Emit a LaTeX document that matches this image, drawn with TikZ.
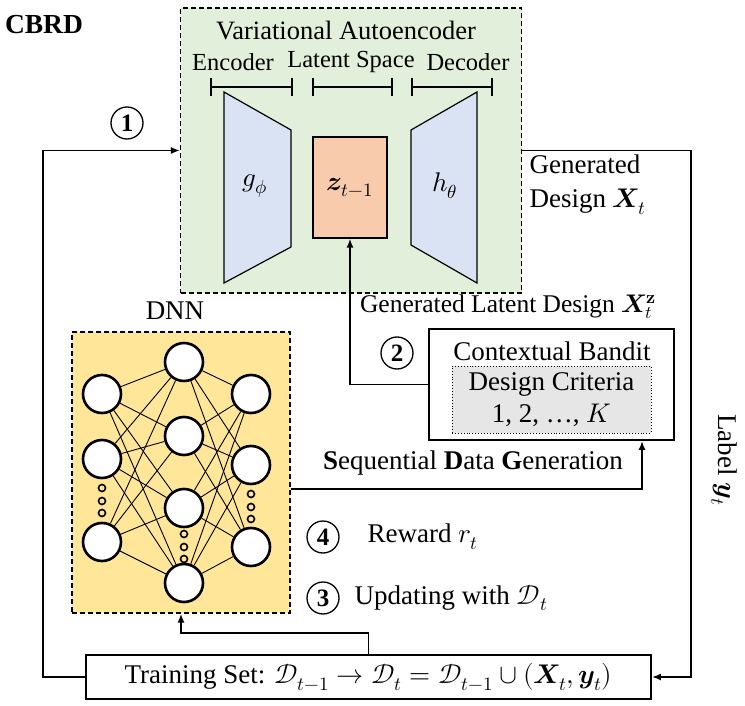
\documentclass[tikz,border=0pt]{standalone}
\usepackage{fontspec}
\usepackage{unicode-math}
\setmainfont{Liberation Serif}
\setmathfont{Latin Modern Math}
\usetikzlibrary{arrows.meta,calc}
\definecolor{vaegreen}{HTML}{E2EFDA}
\definecolor{encblue}{HTML}{DAE3F3}
\definecolor{zorange}{HTML}{F8CBAD}
\definecolor{dnnyellow}{HTML}{FFE699}
\definecolor{critgray}{HTML}{E7E6E6}
\tikzset{
  base/.style={font=\fontsize{27}{32}\selectfont},
  vaefont/.style={font=\fontsize{24.5}{30}\selectfont},
  every node/.style={base},
  conn/.style={line width=1.8pt},
  arr/.style={-{Latex[length=9pt,width=7pt]}},
  bracketline/.style={line width=1.8pt,{Bar[width=18pt,line width=1.8pt]}-{Bar[width=18pt,line width=1.8pt]}},
  dashbox/.style={draw,line width=1.1pt,dash pattern=on 5pt off 3pt,inner sep=0pt},
  solidbox/.style={draw,line width=1.8pt,inner sep=0pt},
  neuron/.style={circle,draw,line width=2.6pt,fill=white,minimum size=38pt,inner sep=0pt},
  dotc/.style={circle,draw,line width=1.6pt,minimum size=7pt,inner sep=0pt},
  synapse/.style={line width=0.9pt},
  numcirc/.style={circle,draw,line width=1.3pt,minimum size=32pt,inner sep=0pt,font=\fontsize{25}{30}\selectfont\bfseries},
  trap/.style={draw,line width=1.2pt,fill=encblue}
}
\begin{document}
\begin{tikzpicture}[x=1pt,y=-1pt]
\useasboundingbox (0,0) rectangle (745,706);

% title
\node[font=\fontsize{27.5}{30}\selectfont\bfseries] (cbrd) at (44,25) {CBRD};

% VAE
\node[dashbox,fill=vaegreen,minimum width=341pt,minimum height=285pt] (vae) at (351,150.5) {};
\node[font=\fontsize{26.5}{30}\selectfont] (vaetitle) at (346,31) {Variational Autoencoder};
\node[vaefont] (enclab) at (233,62) {Encoder};
\node[vaefont] (latlab) at (351,62) {Latent Space};
\node[vaefont] (declab) at (468,62) {Decoder};
\draw[bracketline] (210,87) -- (293,87);
\draw[bracketline] (312,87) -- (393,87);
\draw[bracketline] (411,87) -- (493,87);
\draw[trap] (224,92) -- (291,130) -- (291,247) -- (224,283) -- cycle;
\draw[trap] (411,130) -- (477,92) -- (477,283) -- (411,245) -- cycle;
\node (glab) at (255,186) {$g_{\phi}$};
\node (hlab) at (445,186) {$h_{\theta}$};
\node[draw,line width=1.2pt,fill=zorange,minimum width=74pt,minimum height=101pt,inner sep=0pt] (z) at (350,187.5) {$\symbfit{z}_{t-1}$};

% generated design
\node[align=left,anchor=west,font=\fontsize{27}{34}\selectfont] (gendes) at (526,185) {Generated\\Design $\symbfit{X}_t$};

% latent design label
\node[font=\fontsize{25.5}{30}\selectfont] (genlat) at (508,307) {Generated Latent Design $\symbfit{X}_t^{\symbf{z}}$};

% contextual bandit
\node[solidbox,minimum width=245pt,minimum height=111pt] (bandit) at (551.5,384.5) {};
\node (cbtitle) at (552,351) {Contextual Bandit};
\node[draw,line width=0.9pt,dotted,fill=critgray,minimum width=199pt,minimum height=67pt,align=center,inner sep=0pt,font=\fontsize{27}{32}\selectfont] (crit) at (551.5,399.5) {Design Criteria\\1, 2, …, $K$};
\node[numcirc] (n2) at (397,353) {2};

% DNN
\node (dnnlab) at (175,311) {DNN};
\node[dashbox,fill=dnnyellow,minimum width=218pt,minimum height=281pt] (dnn) at (181,472.5) {};
\foreach \i/\y in {1/394,2/459,3/542} \node[neuron] (L\i) at (102,\y) {};
\foreach \i/\y in {1/362,2/436,3/508,4/583} \node[neuron] (M\i) at (184,\y) {};
\foreach \i/\y in {1/394,2/465,3/547} \node[neuron] (R\i) at (251,\y) {};
\foreach \a in {1,2,3} \foreach \b in {1,2,3,4} \draw[synapse] (L\a) -- (M\b);
\foreach \a in {1,2,3,4} \foreach \b in {1,2,3} \draw[synapse] (M\a) -- (R\b);
\foreach \k/\y in {1/488,2/501,3/513} \node[dotc] (ld\k) at (102,\y) {};
\foreach \k/\y in {1/534,2/547,3/559} \node[dotc] (md\k) at (184,\y) {};
\foreach \k/\y in {1/494,2/507,3/519} \node[dotc] (rd\k) at (251,\y) {};

% sequential data generation
\coordinate (sdgA) at (dnn.east |- 0,489);
\coordinate (sdgB) at (642,489);
\draw[conn,arr] (sdgA) -- (sdgB) -- (sdgB |- bandit.south);
\node (sdglab) at (473,463) {\textbf{S}equential \textbf{D}ata \textbf{G}eneration};

% reward / updating
\node[numcirc] (n4) at (323,537) {4};
\node[anchor=west] (rew) at (364,537) {Reward $r_t$};
\node[numcirc] (n3) at (323,598) {3};
\node[anchor=west] (upd) at (351,598) {Updating with $\mathcal{D}_t$};

% training set
\node[solidbox,minimum width=565pt,minimum height=44pt] (train) at (368.5,677) {Training Set: $\mathcal{D}_{t-1}\rightarrow\mathcal{D}_t=\mathcal{D}_{t-1}\cup(\symbfit{X}_t,\symbfit{y}_t)$};

% connectors
\draw[conn,arr] (train.west) -- ++(-42,0) |- (vae.west);
\node[numcirc] (n1) at (127,123) {1};
\draw[conn,arr] (vae.east) -- ++(169,0) |- (train.east);
\draw[conn,arr] (bandit.west) -| (z.south);
\draw[conn,arr] (train.north) -- ++(0,-21) -| (dnn.south);

% label y
\node[rotate=-90] (lab) at (724,460) {Label $\symbfit{y}_t$};
\end{tikzpicture}
\end{document}
